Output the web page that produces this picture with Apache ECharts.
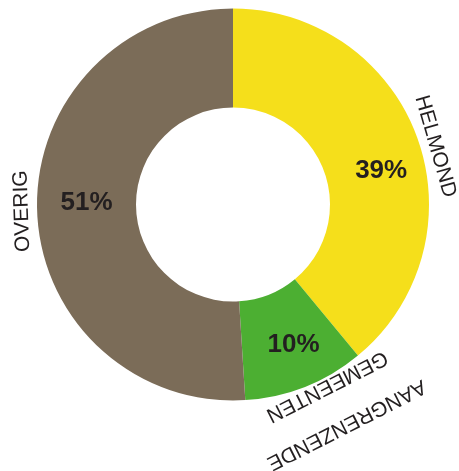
<!DOCTYPE html>
<html>
<head>
<meta charset="utf-8">
<script src="https://cdn.jsdelivr.net/npm/echarts@6/dist/echarts.min.js"></script>
<style>
  html, body { margin: 0; padding: 0; background: #ffffff; }
  #chart { width: 459px; height: 471px; }
</style>
</head>
<body>
<div id="chart"></div>
<script>
// ---- data ----
const categories = ['HELMOND', 'AANGRENZENDE\nGEMEENTEN', 'OVERIG'];
const shares = [39, 10, 51];

// ---- styles ----
const sliceColors = ['#F5DF1B', '#4CAF32', '#7B6C58'];
const nameRing = [0, 1, 0];               // which label ring shows each name
const nameRotate = [-74, -153, 92];
const namePadding = [[0, 0, 0, 28], [0, 45, 2, 0], [0, 0, 0, 0]];
const pctPadding = [[34, 0, 0, 15], [3, 0, 0, 11], [0, 0, 12, 6]];
const FONT = '"Liberation Sans", Arial, Helvetica, sans-serif';
const CENTER = [233, 204.5];

const mainData = categories.map((c, i) => ({
  name: c,
  value: shares[i],
  itemStyle: { color: sliceColors[i] },
  label: { padding: pctPadding[i] }
}));

function nameData(ring) {
  return categories.map((c, i) => ({
    name: c,
    value: shares[i],
    label: { show: nameRing[i] === ring, rotate: nameRotate[i], padding: namePadding[i] }
  }));
}

function nameSeries(ring, radius) {
  return {
    type: 'pie',
    center: CENTER,
    radius: radius,
    startAngle: 90,
    clockwise: true,
    silent: true,
    avoidLabelOverlap: false,
    labelLayout: { hideOverlap: false },
    emphasis: { disabled: true },
    itemStyle: { color: 'rgba(0,0,0,0)', borderWidth: 0 },
    label: {
      position: 'inside',
      formatter: '{b}',
      color: '#231F20',
      fontFamily: FONT,
      fontSize: 21,
      lineHeight: 43,
      rich: { x: {} }
    },
    labelLine: { show: false },
    data: nameData(ring)
  };
}

const chart = echarts.init(document.getElementById('chart'), null, { renderer: 'canvas' });
chart.setOption({
  animation: false,
  backgroundColor: '#ffffff',
  series: [
    {
      type: 'pie',
      center: CENTER,
      radius: [97, 196],
      startAngle: 90,
      clockwise: true,
      silent: true,
      avoidLabelOverlap: false,
      labelLayout: { hideOverlap: false },
      emphasis: { disabled: true },
      itemStyle: { borderWidth: 0 },
      label: {
        show: true,
        position: 'inside',
        formatter: '{c}%',
        color: '#231F20',
        fontFamily: FONT,
        fontWeight: 'bold',
        fontSize: 26,
        rich: { x: {} }
      },
      labelLine: { show: false },
      data: mainData
    },
    nameSeries(0, [196, 220]),
    nameSeries(1, [214, 232])
  ]
});
</script>
</body>
</html>
